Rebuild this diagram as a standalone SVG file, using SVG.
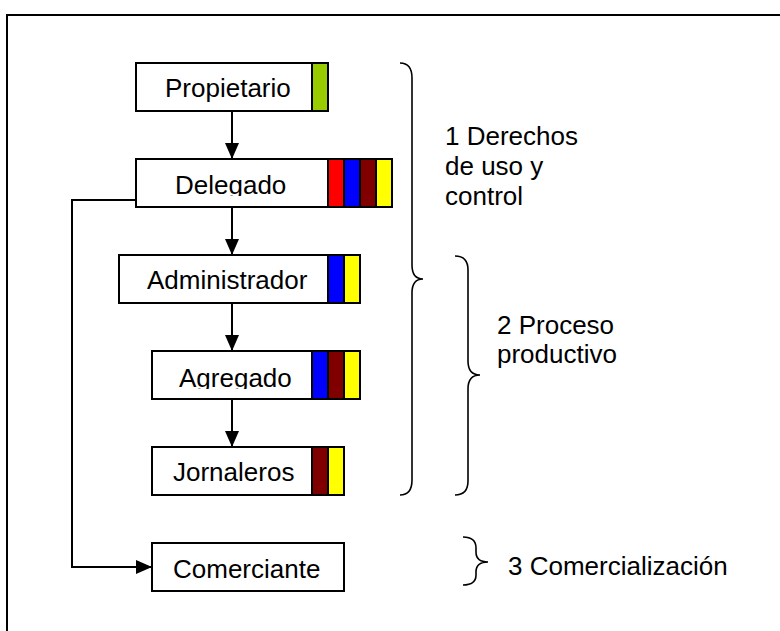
<svg xmlns="http://www.w3.org/2000/svg" width="780" height="631" viewBox="0 0 780 631">
  <style>
    .box { fill: #ffffff; stroke: #000000; stroke-width: 2; }
    .bar { stroke: #000000; stroke-width: 2; }
    .lbl { font-family: "Liberation Sans", Arial, sans-serif; font-size: 26px; fill: #000000; }
    .edge { fill: none; stroke: #000000; stroke-width: 2; }
    .brace { fill: none; stroke: #000000; stroke-width: 1.6; }
  </style>
  <defs>
    <marker id="arrow" markerUnits="userSpaceOnUse" markerWidth="16" markerHeight="14" refX="16" refY="7" orient="auto">
      <path d="M0,0 L16,7 L0,14 Z" fill="#000000"/>
    </marker>
    <!-- text areas clip the descender of the g -->
    <clipPath id="clipDelegado"><rect x="136" y="159" width="192" height="37"/></clipPath>
    <clipPath id="clipAgregado"><rect x="152" y="351" width="160" height="38"/></clipPath>
  </defs>

  <rect width="780" height="631" fill="#ffffff"/>
  <!-- outer frame -->
  <path d="M7,631 L7,15 L780,15" fill="none" stroke="#000000" stroke-width="2"/>

  <g id="connectors">
    <line class="edge" x1="232" y1="111" x2="232" y2="159" marker-end="url(#arrow)"/>
    <line class="edge" x1="232" y1="207" x2="232" y2="255" marker-end="url(#arrow)"/>
    <line class="edge" x1="232" y1="303" x2="232" y2="351" marker-end="url(#arrow)"/>
    <line class="edge" x1="232" y1="399" x2="232" y2="447" marker-end="url(#arrow)"/>
    <path class="edge" d="M136,200 L72,200 L72,567 L152,567" marker-end="url(#arrow)"/>
  </g>

  <g id="propietario">
    <rect class="box" x="136" y="63" width="192" height="48"/>
    <rect class="bar" x="312" y="63" width="16" height="48" fill="#99cc00"/>
    <text class="lbl" x="165" y="97">Propietario</text>
  </g>

  <g id="delegado">
    <rect class="box" x="136" y="159" width="256" height="48"/>
    <rect class="bar" x="328" y="159" width="16" height="48" fill="#ff0000"/>
    <rect class="bar" x="344" y="159" width="16" height="48" fill="#0000ff"/>
    <rect class="bar" x="360" y="159" width="16" height="48" fill="#800000"/>
    <rect class="bar" x="376" y="159" width="16" height="48" fill="#ffff00"/>
    <text class="lbl" x="175" y="194" clip-path="url(#clipDelegado)">Delegado</text>
  </g>

  <g id="administrador">
    <rect class="box" x="119" y="255" width="241" height="48"/>
    <rect class="bar" x="328" y="255" width="16" height="48" fill="#0000ff"/>
    <rect class="bar" x="344" y="255" width="16" height="48" fill="#ffff00"/>
    <text class="lbl" x="147" y="289">Administrador</text>
  </g>

  <g id="agregado">
    <rect class="box" x="152" y="351" width="208" height="48"/>
    <rect class="bar" x="312" y="351" width="16" height="48" fill="#0000ff"/>
    <rect class="bar" x="328" y="351" width="16" height="48" fill="#800000"/>
    <rect class="bar" x="344" y="351" width="16" height="48" fill="#ffff00"/>
    <text class="lbl" x="179" y="387" clip-path="url(#clipAgregado)">Agregado</text>
  </g>

  <g id="jornaleros">
    <rect class="box" x="152" y="447" width="192" height="48"/>
    <rect class="bar" x="312" y="447" width="16" height="48" fill="#800000"/>
    <rect class="bar" x="328" y="447" width="16" height="48" fill="#ffff00"/>
    <text class="lbl" x="173" y="481">Jornaleros</text>
  </g>

  <g id="comerciante">
    <rect class="box" x="152" y="543" width="192" height="48"/>
    <text class="lbl" x="173" y="578">Comerciante</text>
  </g>

  <g id="grupos">
    <path class="brace" d="M400,63 Q412,63 412,78 L412,265 Q412,279 423,279 Q412,279 412,293 L412,480 Q412,495 400,495"/>
    <text class="lbl" x="445" y="145">1 Derechos</text>
    <text class="lbl" x="445" y="175">de uso y</text>
    <text class="lbl" x="445" y="205">control</text>

    <path class="brace" d="M455,256 Q468,256 468,270 L468,361 Q468,375 480,375 Q468,375 468,389 L468,481 Q468,495 455,495"/>
    <text class="lbl" x="497" y="334">2 Proceso</text>
    <text class="lbl" x="497" y="363">productivo</text>

    <path class="brace" d="M463,537 Q476,537 476,548 L476,552 Q476,562 488,562 Q476,562 476,572 L476,575 Q476,585 463,585"/>
    <text class="lbl" x="508" y="575">3 Comercialización</text>
  </g>
</svg>
